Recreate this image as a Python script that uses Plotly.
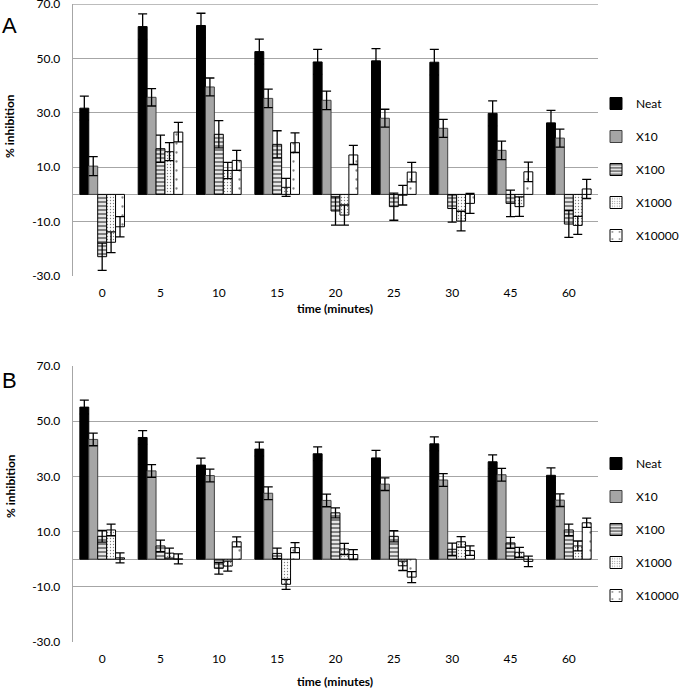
import plotly.graph_objects as go

times = ["0", "5", "10", "15", "20", "25", "30", "45", "60"]
series_names = ["Neat", "X10", "X100", "X1000", "X10000"]

# Panel A values and errors
a_neat = [31.7, 61.7, 62.1, 52.5, 48.7, 49.1, 48.6, 29.8, 26.3]
a_neat_err = [4.4, 4.7, 4.5, 4.6, 4.6, 4.5, 4.7, 4.6, 4.6]
a_x10 = [10.4, 35.7, 39.5, 35.3, 34.6, 28.0, 24.3, 16.2, 20.7]
a_x10_err = [3.5, 3.2, 3.3, 3.4, 3.4, 3.3, 3.3, 3.4, 3.3]
a_x100 = [-22.9, 16.8, 22.1, 18.4, -6.1, -4.5, -5.2, -3.3, -10.9]
a_x100_err = [5.0, 5.0, 5.0, 5.0, 5.2, 5.0, 5.0, 4.9, 4.9]
a_x1000 = [-17.6, 15.7, 8.8, 2.6, -7.6, -0.3, -9.8, -4.5, -11.4]
a_x1000_err = [3.8, 3.3, 3.0, 3.3, 3.7, 3.6, 3.6, 3.6, 3.3]
a_x10000 = [-11.9, 22.9, 12.5, 19.0, 14.5, 8.2, -3.3, 8.3, 2.0]
a_x10000_err = [3.7, 3.6, 3.7, 3.6, 3.5, 3.6, 3.7, 3.6, 3.5]

# Panel B values and errors
b_neat = [55.1, 44.1, 34.1, 39.9, 38.2, 36.7, 41.8, 35.3, 30.4]
b_neat_err = [2.5, 2.5, 2.5, 2.5, 2.5, 2.7, 2.5, 2.5, 2.7]
b_x10 = [43.4, 32.0, 30.3, 23.9, 21.3, 27.2, 28.7, 30.6, 21.4]
b_x10_err = [2.3, 2.3, 2.3, 2.3, 2.3, 2.3, 2.3, 2.3, 2.3]
b_x100 = [8.3, 4.8, -3.3, 2.1, 16.8, 8.3, 3.6, 5.9, 10.6]
b_x100_err = [2.1, 2.1, 2.1, 1.9, 1.8, 2.0, 2.2, 2.0, 2.1]
b_x1000 = [10.6, 2.2, -2.5, -9.1, 3.7, -2.4, 6.3, 2.5, 4.8]
b_x1000_err = [2.1, 1.8, 1.8, 1.8, 2.0, 1.7, 1.9, 1.8, 1.8]
b_x10000 = [0.5, 0.1, 6.3, 4.2, 1.7, -6.5, 3.1, -0.8, 13.2]
b_x10000_err = [1.8, 1.8, 1.8, 1.8, 1.8, 2.0, 1.7, 1.9, 1.7]

y_ticks = [-30, -10, 10, 30, 50, 70]
y_tick_labels = ["-30.0", "-10.0", "10.0", "30.0", "50.0", "70.0"]

styles = [
    dict(color="black", line=dict(color="black", width=1)),
    dict(color="#a6a6a6", line=dict(color="#404040", width=1)),
    dict(color="white", line=dict(color="black", width=1),
         pattern=dict(shape="-", fgcolor="black", bgcolor="white", size=4, solidity=0.6)),
    dict(color="white", line=dict(color="black", width=1),
         pattern=dict(shape=".", fgcolor="black", bgcolor="white", size=3, solidity=0.15)),
    dict(color="white", line=dict(color="black", width=1),
         pattern=dict(shape=".", fgcolor="black", bgcolor="white", size=9, solidity=0.05)),
]

panels = [
    ([a_neat, a_x10, a_x100, a_x1000, a_x10000],
     [a_neat_err, a_x10_err, a_x100_err, a_x1000_err, a_x10000_err], "x", "y", "legend"),
    ([b_neat, b_x10, b_x100, b_x1000, b_x10000],
     [b_neat_err, b_x10_err, b_x100_err, b_x1000_err, b_x10000_err], "x2", "y2", "legend2"),
]

fig = go.Figure()
for vals, errs, xa, ya, lg in panels:
    for i, name in enumerate(series_names):
        fig.add_trace(go.Bar(
            x=times, y=vals[i], name=name, xaxis=xa, yaxis=ya, legend=lg,
            legendgroup=lg + name,
            marker=styles[i],
            error_y=dict(type="data", array=errs[i], visible=True,
                         color="black", thickness=1.3, width=4.5),
        ))

W, H = 685, 689
font = "Lato, 'Open Sans', sans-serif"
grid_color = "#a6a6a6"
axis_common_y = dict(range=[-30, 70], tickvals=y_ticks, ticktext=y_tick_labels,
                     showgrid=True, gridcolor=grid_color, gridwidth=1.3,
                     zeroline=True, zerolinecolor=grid_color, zerolinewidth=1.3,
                     showline=True, linecolor=grid_color, linewidth=1.3,
                     ticks="", ticklabelstandoff=9, automargin=False,
                     ticklabeloverflow="allow",
                     tickfont=dict(family=font, size=12, color="black"))
axis_common_x = dict(type="category", showgrid=False, zeroline=False, showline=False,
                     ticks="", automargin=False, ticklabelstandoff=8,
                     tickfont=dict(family=font, size=12, color="black"))

xd = [73 / W, 598 / W]
ya_dom = [1 - 276 / H, 1 - 4 / H]
yb_dom = [1 - 642 / H, 1 - 366 / H]

legend_common = dict(font=dict(family=font, size=12, color="black"),
                     tracegroupgap=14, xanchor="left", yanchor="top",
                     bgcolor="rgba(0,0,0,0)", itemclick=False)

fig.update_layout(
    width=W, height=H,
    margin=dict(l=0, r=0, t=0, b=0, autoexpand=False),
    plot_bgcolor="white", paper_bgcolor="white",
    barmode="group", bargap=0.235, bargroupgap=0,
    xaxis=dict(domain=xd, anchor="y", **axis_common_x),
    yaxis=dict(domain=ya_dom, anchor="x", **axis_common_y),
    xaxis2=dict(domain=xd, anchor="y2", **axis_common_x),
    yaxis2=dict(domain=yb_dom, anchor="x2", **axis_common_y),
    legend=dict(x=596 / W, y=1 - 89 / H, **legend_common),
    legend2=dict(x=596 / W, y=1 - 449 / H, **legend_common),
    showlegend=True,
    shapes=[
        dict(type="line", xref="x domain", yref="y", x0=0, x1=1, y0=70, y1=70,
             line=dict(color=grid_color, width=1.3), layer="below"),
    ],
    annotations=[
        dict(text="A", x=0, y=1 - 26 / H, xref="paper", yref="paper", xanchor="left",
             yanchor="middle", showarrow=False,
             font=dict(family="Liberation Sans, Arial", size=22, color="black")),
        dict(text="B", x=0, y=1 - 380 / H, xref="paper", yref="paper", xanchor="left",
             yanchor="middle", showarrow=False,
             font=dict(family="Liberation Sans, Arial", size=22, color="black")),
        dict(text="<b>% inhibition</b>", x=10 / W, y=1 - 126 / H, xref="paper", yref="paper",
             textangle=-90, showarrow=False, xanchor="center", yanchor="middle",
             font=dict(family=font, size=12, color="black")),
        dict(text="<b>% inhibition</b>", x=10 / W, y=1 - 486 / H, xref="paper", yref="paper",
             textangle=-90, showarrow=False, xanchor="center", yanchor="middle",
             font=dict(family=font, size=12, color="black")),
        dict(text="<b>time (minutes)</b>", x=335 / W, y=1 - 308 / H, xref="paper", yref="paper",
             showarrow=False, xanchor="center", yanchor="middle",
             font=dict(family=font, size=12, color="black")),
        dict(text="<b>time (minutes)</b>", x=335 / W, y=1 - 681 / H, xref="paper", yref="paper",
             showarrow=False, xanchor="center", yanchor="middle",
             font=dict(family=font, size=12, color="black")),
    ],
)

fig.write_html("out.html", config={"displayModeBar": False, "staticPlot": True},
               post_script="document.body.style.margin='0';document.body.style.overflow='hidden';")
